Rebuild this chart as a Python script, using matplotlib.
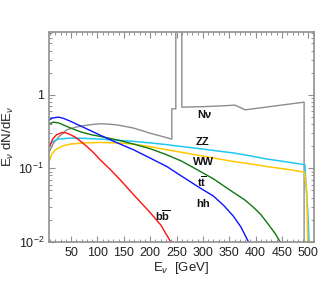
import numpy as np
import matplotlib
matplotlib.use('Agg')
import matplotlib.pyplot as plt
from matplotlib.ticker import MultipleLocator, LogLocator, NullFormatter

plt.rcParams['font.family'] = ['Liberation Sans', 'DejaVu Sans']
plt.rcParams['mathtext.fontset'] = 'custom'
plt.rcParams['mathtext.rm'] = 'Liberation Sans'
plt.rcParams['mathtext.it'] = 'Liberation Sans:italic'
plt.rcParams['mathtext.bf'] = 'Liberation Sans:bold'

# spectra, E in GeV
bb_E = [9, 15, 22, 32.3, 40, 49.4, 60, 79.7, 92, 105, 124, 143, 168.3, 200, 220, 239]
bb_y = [0.199, 0.25, 0.285, 0.307, 0.304, 0.286, 0.26, 0.199, 0.165, 0.131, 0.097, 0.070, 0.044, 0.025, 0.017, 0.01]

hh_E = [9, 15, 26, 35, 49.4, 70, 90, 105, 124, 143, 168.3, 200, 231.5, 260, 294.8, 320, 340, 358, 372, 386.5]
hh_y = [0.458, 0.485, 0.497, 0.48, 0.435, 0.371, 0.318, 0.283, 0.245, 0.214, 0.179, 0.138, 0.106, 0.078, 0.054, 0.042, 0.031, 0.0223, 0.016, 0.01]

tt_E = [9, 16.5, 26, 35, 49.4, 70, 90, 105, 136, 168.3, 200, 231.5, 260, 294.8, 320, 358, 380, 396, 410, 425, 437, 446.6]
tt_y = [0.404, 0.425, 0.415, 0.39, 0.353, 0.31, 0.285, 0.272, 0.245, 0.214, 0.185, 0.153, 0.125, 0.091, 0.072, 0.047, 0.037, 0.0295, 0.0235, 0.017, 0.013, 0.01]

ww_E = [9, 13, 19.6, 26, 35, 49.4, 75, 105, 136, 168.3, 200, 231.5, 260, 294.8, 326, 358, 390, 421, 460, 492.5, 497, 499]
ww_y = [0.127, 0.155, 0.177, 0.189, 0.203, 0.214, 0.222, 0.225, 0.222, 0.214, 0.197, 0.179, 0.165, 0.149, 0.136, 0.124, 0.115, 0.106, 0.097, 0.089, 0.05, 0.01]

zz_E = [9, 13, 19.6, 26, 49.4, 75, 105, 136, 168.3, 200, 231.5, 260, 294.8, 326, 358, 390, 421, 460, 493.5, 495.5, 498.5, 501.5]
zz_y = [0.199, 0.225, 0.24, 0.25, 0.258, 0.256, 0.25, 0.242, 0.233, 0.222, 0.21, 0.198, 0.185, 0.173, 0.162, 0.148, 0.134, 0.122, 0.112, 0.06, 0.03, 0.01]

nu_E = [9, 16.5, 26, 41.8, 60, 73.4, 90, 105, 120, 136.7, 150, 168.3, 185, 200, 220, 241, 241, 248.6, 248.6, 260, 260, 300, 340, 361, 380, 492, 492]
nu_y = [0.17, 0.22, 0.266, 0.335, 0.365, 0.38, 0.395, 0.404, 0.40, 0.39, 0.375, 0.353, 0.325, 0.30, 0.275, 0.25, 0.645, 0.645, 50, 50, 0.68, 0.69, 0.71, 0.724, 0.625, 0.795, 0.001]

yticks = [0.01, 0.1, 1]
ytick_labels = ['$10^{-2}$', '$10^{-1}$', '1']
xticks = [50, 100, 150, 200, 250, 300, 350, 400, 450, 500]

fig = plt.figure(figsize=(3.31, 2.89), dpi=100)
ax = fig.add_axes([0.148, 0.163, 0.801, 0.727])

ax.plot(nu_E, nu_y, color='#8c8c8c', lw=1.0)
ax.plot(zz_E, zz_y, color='#20c8f0', lw=1.1)
ax.plot(ww_E, ww_y, color='#ffc800', lw=1.1)
ax.plot(tt_E, tt_y, color='#117711', lw=1.0)
ax.plot(hh_E, hh_y, color='#0a14ff', lw=1.0)
ax.plot(bb_E, bb_y, color='#ff1010', lw=1.0)

ax.set_yscale('log')
ax.set_xlim(8, 511)
ax.set_ylim(0.01, 7.2)
ax.set_yticks(yticks)
ax.set_yticklabels(ytick_labels)
ax.yaxis.set_minor_locator(LogLocator(subs=np.arange(2, 10)))
ax.yaxis.set_minor_formatter(NullFormatter())
ax.set_xticks(xticks)
ax.xaxis.set_minor_locator(MultipleLocator(10))

ax.tick_params(which='both', direction='in', top=True, right=True,
               color='#909090', labelsize=9, labelcolor='#222222')
ax.tick_params(which='major', length=4.5, width=0.8, pad=3.5)
ax.tick_params(which='minor', length=2.3, width=0.7)
for s in ax.spines.values():
    s.set_color('#909090')
    s.set_linewidth(1.2)

ax.set_xlabel(r'E$_\nu$  [GeV]', fontsize=9.5, labelpad=1, color='#222222')
ax.set_ylabel(r'E$_\nu$ dN/dE$_\nu$', fontsize=9.5, labelpad=2, color='#222222')

kw = dict(ha='center', va='center', fontsize=8, fontweight='bold', color='#111111')
ax.text(302, 0.535, 'Nν', **kw)
ax.text(298.6, 0.23, 'ZZ', **kw)
ax.text(300.5, 0.123, 'WW', **kw)
ax.text(298.6, 0.066, r'$\mathbf{t\overline{t}}$', **kw)
ax.text(300.5, 0.033, 'hh', **kw)
ax.text(224.6, 0.0228, r'$\mathbf{b\overline{b}}$', **kw)

fig.savefig('out.png', dpi=100)
